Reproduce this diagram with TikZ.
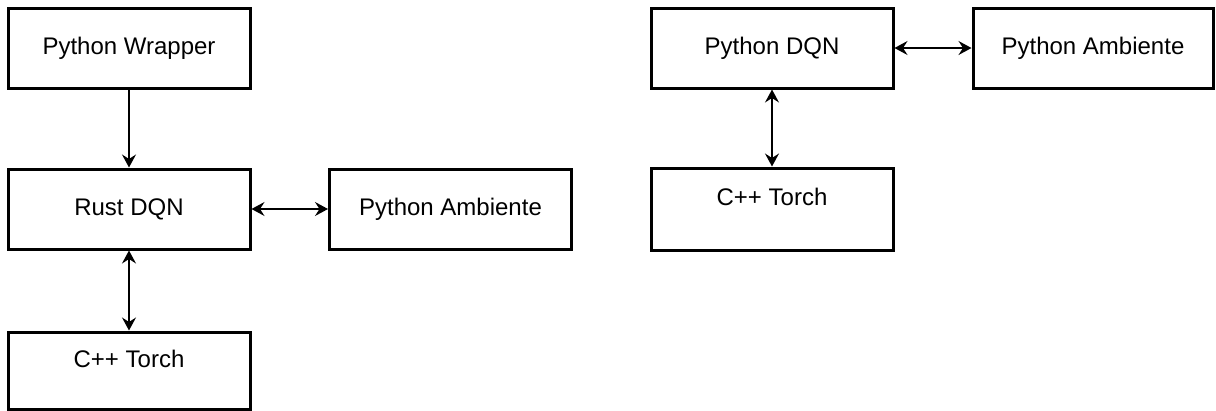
\documentclass[tikz,border=0pt]{standalone}
\usepackage{fontspec}
\setmainfont{Liberation Sans}
\usetikzlibrary{arrows.meta}
\tikzset{
  blk/.style={draw=black, line width=3pt, fill=white, minimum width=242pt,
              minimum height=80pt, inner sep=0pt, font=\fontsize{24}{28}\selectfont},
  txtlbl/.style={inner sep=0pt, font=\fontsize{24}{28}\selectfont},
  link/.style={line width=1.5pt, black},
  tip/.style={-{Stealth[length=13pt,width=14pt,inset=4.5pt]}},
  tips/.style={{Stealth[length=13pt,width=14pt,inset=4.5pt]}-{Stealth[length=13pt,width=14pt,inset=4.5pt]}}
}
\begin{document}
\begin{tikzpicture}[x=1pt,y=-1pt]
  \useasboundingbox (0,0) rectangle (1216,410);
  \clip (0,0) rectangle (1216,410);

  % left stack: Rust DQN in the middle
  \node[blk] (pw)   at (129,48)  {\raisebox{-1.5pt}{Python Wrapper}};
  \node[blk] (rdqn) at (129,209) {\raisebox{-1.5pt}{Rust DQN}};
  \node[blk] (ambl) at (450.5,209) {\raisebox{-1.5pt}{Python Ambiente}};
  \node[blk, minimum height=77pt] (ctl) at (129,370.5) {};
  \node[txtlbl] (ctlt) at ([yshift=-28pt]ctl.north) {C++ Torch};

  % right stack: Python DQN on top
  \node[blk] (pdqn) at (772,48)  {\raisebox{-1.5pt}{Python DQN}};
  \node[blk, minimum width=240pt] (ambr) at (1093,48) {\raisebox{-1.5pt}{Python Ambiente}};
  \node[blk, minimum height=82pt] (ctr) at (772,209) {};
  \node[txtlbl] (ctrt) at ([yshift=-30pt]ctr.north) {C++ Torch};

  % connectors
  \draw[link, tip]  (pw.south) -- (rdqn.north);
  \draw[link, tips] (rdqn.east) -- (ambl.west);
  \draw[link, tips] (rdqn.south) -- (ctl.north);
  \draw[link, tips] (pdqn.east) -- (ambr.west);
  \draw[link, tips] (pdqn.south) -- (ctr.north);
\end{tikzpicture}
\end{document}
